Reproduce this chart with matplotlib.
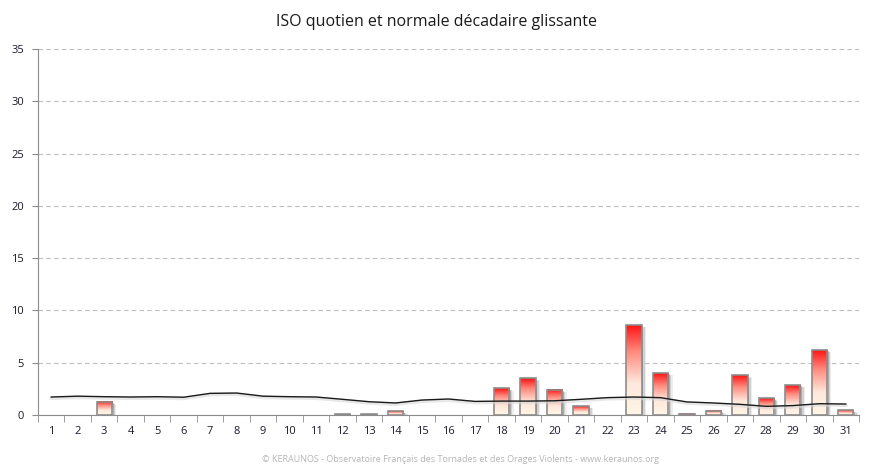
import numpy as np
import matplotlib
matplotlib.use("Agg")
import matplotlib.pyplot as plt
from matplotlib.colors import LinearSegmentedColormap
from matplotlib.patches import Rectangle

# daily values
days = list(range(1, 32))
iso_values = [0, 0, 1.25, 0, 0, 0, 0, 0, 0, 0, 0, 0.05, 0.05, 0.35, 0, 0, 0,
              2.55, 3.5, 2.4, 0.85, 0, 8.6, 4.0, 0.1, 0.4, 3.8, 1.6, 2.85, 6.2, 0.45]
normal_values = [1.72, 1.8, 1.75, 1.72, 1.75, 1.7, 2.07, 2.1, 1.8, 1.75, 1.72,
                 1.5, 1.27, 1.15, 1.43, 1.53, 1.3, 1.33, 1.33, 1.36, 1.5, 1.66,
                 1.72, 1.66, 1.25, 1.15, 1.02, 0.83, 0.9, 1.08, 1.05]
y_ticks = [0, 5, 10, 15, 20, 25, 30, 35]

plt.rcParams['font.family'] = ['Open Sans', 'DejaVu Sans']

fig = plt.figure(figsize=(8.74, 4.71), dpi=100)
ax = fig.add_axes([38 / 874, 1 - 415 / 471, 821 / 874, 366 / 471])

cmap = LinearSegmentedColormap.from_list(
    "iso", [(0, "#fff6e6"), (0.35, "#ffe8dc"), (0.7, "#ff8c80"), (1, "#ff1414")])
grad = np.linspace(0, 1, 256).reshape(-1, 1)
width = 0.58

for d, v in zip(days, iso_values):
    if v <= 0:
        continue
    x0 = d - width / 2
    # soft drop shadow on the right
    for k, a in enumerate([0.30, 0.18, 0.10]):
        off = 0.07 + 0.05 * k
        ax.add_patch(Rectangle((x0 + off, 0), width, max(v - 0.12 - 0.05 * k, 0.03),
                               facecolor="#555555", edgecolor="none",
                               alpha=a, zorder=2))
    ax.imshow(grad, extent=[x0, x0 + width, 0, v], origin="lower",
              aspect="auto", cmap=cmap, zorder=3)
    ax.add_patch(Rectangle((x0, 0), width, v, facecolor="none",
                           edgecolor="#8c8c8c", linewidth=1.2, zorder=4))

# line shadow then line
ax.plot(days, [n - 0.12 for n in normal_values], color="#d8d8d8", lw=2.5,
        alpha=0.6, zorder=4)
ax.plot(days, normal_values, color="#1a1a1a", lw=1.0, zorder=5)

ax.set_xlim(0.5, 31.5)
ax.set_ylim(0, 35)
ax.set_yticks(y_ticks)
ax.yaxis.grid(True, linestyle=(0, (4, 3)), color="#bdbdbd", linewidth=0.8)
ax.set_axisbelow(True)

ax.set_xticks(days)
ax.set_xticklabels([str(d) for d in days], fontsize=8, color="#1a1a2e")
ax.set_xticks(np.arange(0.5, 32, 1), minor=True)
ax.tick_params(axis="x", which="major", length=0, pad=8)
ax.tick_params(axis="x", which="minor", length=5, color="#8c8c8c")
ax.tick_params(axis="y", length=4, color="#8c8c8c", labelsize=8, pad=6,
               labelcolor="#1a1a2e")

for s in ["top", "right"]:
    ax.spines[s].set_visible(False)
for s in ["left", "bottom"]:
    ax.spines[s].set_color("#8c8c8c")

fig.text(0.5, 1 - 22 / 471, "ISO quotien et normale décadaire glissante",
         ha="center", va="center", fontsize=11.5, color="#1a1a1a")
fig.text(0.527, 1 - 459 / 471,
         "© KERAUNOS - Observatoire Français des Tornades et des Orages Violents - www.keraunos.org",
         ha="center", va="center", fontsize=6.5, color="#b5b5b5")

fig.savefig("out.png", dpi=100, facecolor="white")
